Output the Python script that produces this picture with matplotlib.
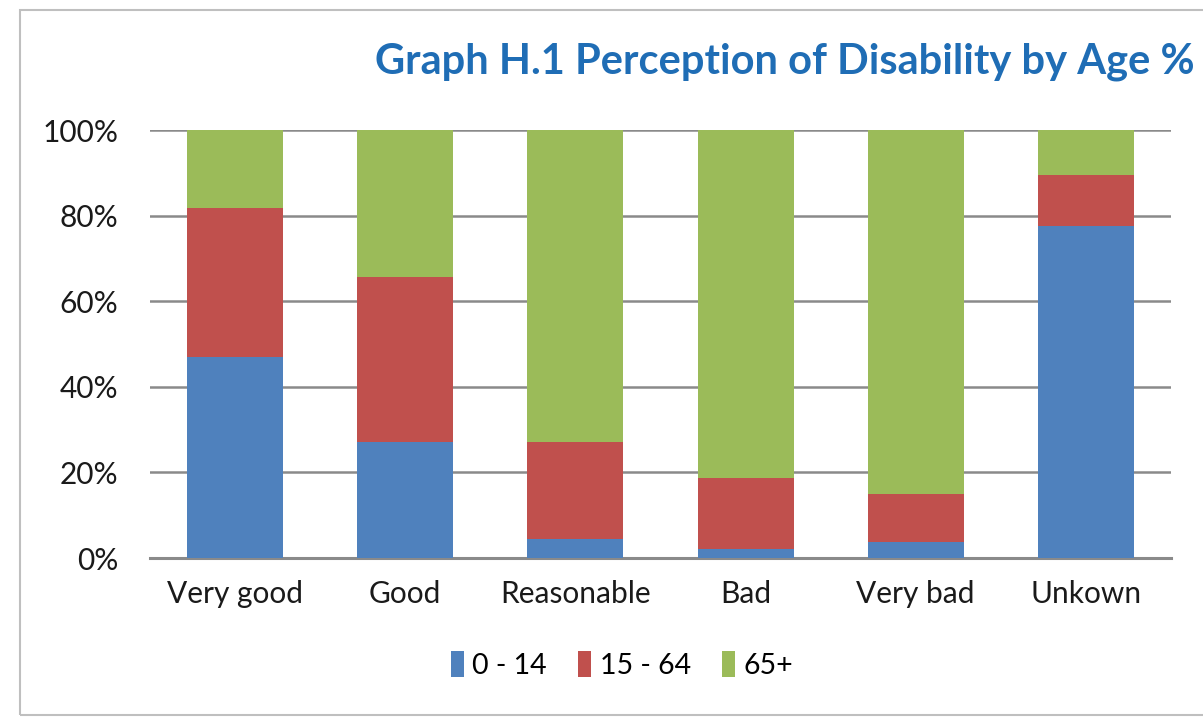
import matplotlib
matplotlib.use("Agg")
import matplotlib.pyplot as plt
from matplotlib.patches import Rectangle
from matplotlib.ticker import FuncFormatter
import numpy as np

categories = ["Very good", "Good", "Reasonable", "Bad", "Very bad", "Unkown"]
series_names = ["0 - 14", "15 - 64", "65+"]
age_0_14 = [47.0, 27.1, 4.4, 2.1, 3.7, 77.6]
age_15_64 = [34.8, 38.6, 22.7, 16.6, 11.3, 11.9]
age_65_plus = [18.2, 34.3, 72.9, 81.3, 85.0, 10.5]
colors = ["#4F81BD", "#C0504D", "#9BBB59"]
yticks = [0, 20, 40, 60, 80, 100]

plt.rcParams['font.family'] = ['Lato', 'DejaVu Sans']

fig = plt.figure(figsize=(12.03, 7.18), dpi=100)
fig.patch.set_facecolor("white")

# outer chart border
fig.add_artist(Rectangle((20/1203, 3/718), 1.2, (715-10)/718, transform=fig.transFigure,
                         fill=False, edgecolor="#BFBFBF", linewidth=1.5))

ax = fig.add_axes([150/1203, (718-558)/718, (1171-150)/1203, (558-130)/718])
x = np.arange(len(categories))
w = 0.565
bottom = np.zeros(len(categories))
for vals, name, c in zip([age_0_14, age_15_64, age_65_plus], series_names, colors):
    ax.bar(x, vals, w, bottom=bottom, color=c, label=name, zorder=3)
    bottom += np.array(vals)

ax.set_xlim(-0.5, len(categories) - 0.5)
ax.set_ylim(0, 100)
ax.set_yticks(yticks)
ax.yaxis.set_major_formatter(FuncFormatter(lambda v, p: f"{int(v)}%"))
ax.grid(axis="y", color="#8A8A8A", linewidth=1.8, zorder=0)
for s in ["top", "right", "left"]:
    ax.spines[s].set_visible(False)
ax.spines["bottom"].set_color("#8A8A8A")
ax.spines["bottom"].set_linewidth(2.2)
ax.tick_params(axis="y", length=0, pad=23, labelsize=21.5, labelcolor="#1a1a1a")
ax.tick_params(axis="x", length=0, pad=16, labelsize=21.5, labelcolor="#1a1a1a")
ax.set_xticks(x)
ax.set_xticklabels(categories)

fig.text(1195/1203, (718-62)/718, "Graph H.1 Perception of Disability by Age %",
         ha="right", va="center", fontsize=30, fontweight="bold", color="#1F6DB5")

leg = fig.legend(loc="center", bbox_to_anchor=(622/1203, (718-665)/718), ncol=3,
                 frameon=False, fontsize=20.5, handlelength=0.45, handleheight=1.0,
                 handletextpad=0.3, columnspacing=1.1)

fig.savefig("out.png", dpi=100, facecolor="white")
